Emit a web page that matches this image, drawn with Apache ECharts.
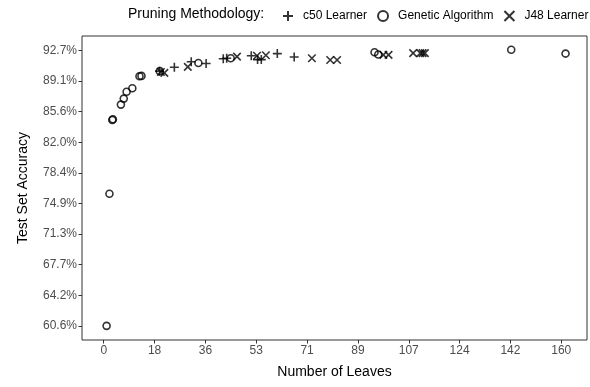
<!DOCTYPE html>
<html>
<head>
<meta charset="utf-8">
<script src="https://cdn.jsdelivr.net/npm/echarts@6/dist/echarts.min.js"></script>
<style>
  html, body { margin: 0; padding: 0; background: #fff; }
  #chart { width: 590px; height: 387px; }
</style>
</head>
<body>
<div id="chart"></div>
<script>
// Pruning results: number of leaves vs. test set accuracy (%)
const c50Learner = [
  [19.5, 90.3], [24.7, 90.75], [30.6, 91.4], [35.8, 91.2], [41.8, 91.75],
  [43.0, 91.8], [51.6, 92.1], [53.8, 91.65], [55.1, 91.65], [60.7, 92.35],
  [66.6, 91.95]
];
const geneticAlgorithm = [
  [1, 60.6], [2, 76.0], [3, 84.6], [3.2, 84.7], [6, 86.4], [7, 87.1],
  [8, 87.9], [10, 88.3], [12.5, 89.7], [13.2, 89.75], [19.6, 90.3],
  [33.1, 91.25], [44.4, 91.8], [94.7, 92.5], [96.0, 92.25], [142.5, 92.8],
  [161.5, 92.35]
];
const j48Learner = [
  [20.0, 90.2], [21.2, 90.1], [29.4, 90.8], [46.6, 92.0], [53.6, 92.1],
  [56.7, 92.15], [72.8, 91.8], [79.2, 91.6], [81.6, 91.6], [97.8, 92.2],
  [99.6, 92.2], [108.2, 92.4], [110.7, 92.4], [111.5, 92.4], [112.3, 92.4]
];

const xTickLabels = ['0', '18', '36', '53', '71', '89', '107', '124', '142', '160'];
const yTickLabels = ['60.6%', '64.2%', '67.7%', '71.3%', '74.9%', '78.4%', '82.0%', '85.6%', '89.1%', '92.7%'];

// evenly spaced breaks across the labelled range
const xTickValues = xTickLabels.map((_, i) => i * 160 / 9);
const yTickValues = yTickLabels.map((_, i) => 60.6 + i * (92.7 - 60.6) / 9);

function nearestLabel(values, labels, v) {
  let best = 0;
  for (let i = 1; i < values.length; i++) {
    if (Math.abs(values[i] - v) < Math.abs(values[best] - v)) best = i;
  }
  return labels[best];
}

const FONT = '"Liberation Sans", Arial, Helvetica, sans-serif';
const PLUS = 'path://M5,0L5,10M0,5L10,5';
const CROSS = 'path://M0,0L10,10M10,0L0,10';

const chart = echarts.init(document.getElementById('chart'), null, { renderer: 'canvas' });

const markStyle = { color: 'rgba(0,0,0,0)', borderColor: '#000', borderWidth: 1.6 };
const keyStyle = { color: 'rgba(0,0,0,0)', borderColor: '#000', borderWidth: 2 };

chart.setOption({
  animation: false,
  backgroundColor: '#fff',
  textStyle: { fontFamily: FONT },
  grid: {
    left: 82, top: 36, right: 3, bottom: 47,
    show: true, borderColor: '#333', borderWidth: 1, backgroundColor: '#fff'
  },
  graphic: [{
    type: 'text', left: 128, top: 7,
    style: { text: 'Pruning Methodology:', font: '14px ' + FONT, fill: '#000' }
  }],
  legend: {
    left: 277, top: 5, width: 330,
    orient: 'horizontal',
    itemWidth: 10, itemHeight: 10, itemGap: 10,
    textStyle: { fontFamily: FONT, fontSize: 12, color: '#000', padding: [0, 0, 0, 5] },
    data: [
      { name: 'c50 Learner', icon: PLUS, itemStyle: keyStyle },
      { name: 'Genetic Algorithm', icon: 'circle', itemStyle: keyStyle },
      { name: 'J48 Learner', icon: CROSS, itemStyle: keyStyle }
    ]
  },
  xAxis: {
    type: 'value', min: -7.6, max: 169,
    name: 'Number of Leaves', nameLocation: 'middle', nameGap: 25,
    nameTextStyle: { fontFamily: FONT, fontSize: 14, color: '#000' },
    splitLine: { show: false },
    axisLine: { show: false, onZero: false },
    axisTick: { show: true, length: 3.5, lineStyle: { color: '#333' }, customValues: xTickValues },
    axisLabel: {
      margin: 5, fontSize: 12, color: '#4d4d4d', fontFamily: FONT,
      customValues: xTickValues,
      formatter: v => nearestLabel(xTickValues, xTickLabels, v)
    }
  },
  yAxis: {
    type: 'value', min: 58.95, max: 94.4,
    name: 'Test Set Accuracy', nameLocation: 'middle', nameGap: 52, nameRotate: 90,
    nameTextStyle: { fontFamily: FONT, fontSize: 14, color: '#000' },
    splitLine: { show: false },
    axisLine: { show: false, onZero: false },
    axisTick: { show: true, length: 3.5, lineStyle: { color: '#333' }, customValues: yTickValues },
    axisLabel: {
      margin: 5, fontSize: 12, color: '#4d4d4d', fontFamily: FONT,
      customValues: yTickValues,
      formatter: v => nearestLabel(yTickValues, yTickLabels, v)
    }
  },
  series: [
    { name: 'c50 Learner', type: 'scatter', data: c50Learner, symbol: PLUS, symbolSize: 9, itemStyle: markStyle },
    { name: 'Genetic Algorithm', type: 'scatter', data: geneticAlgorithm, symbol: 'circle', symbolSize: 7, itemStyle: markStyle },
    { name: 'J48 Learner', type: 'scatter', data: j48Learner, symbol: CROSS, symbolSize: 7.5, itemStyle: markStyle }
  ]
});
</script>
</body>
</html>
